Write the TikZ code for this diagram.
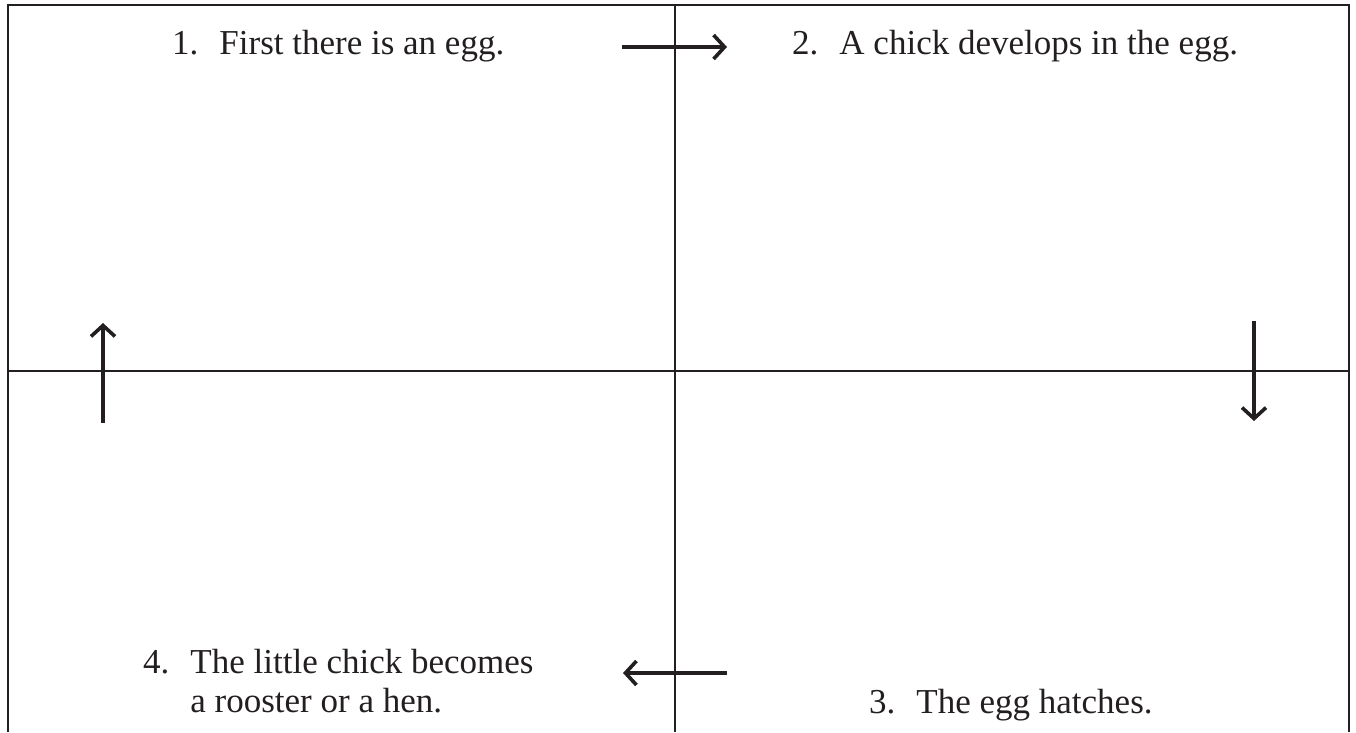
\documentclass[tikz,border=0pt]{standalone}
\usepackage{fontspec}
\setmainfont{Liberation Serif}
\usepackage{tikz}
\usetikzlibrary{arrows.meta}
\definecolor{ink}{RGB}{35,31,32}
\newcommand{\stagefont}{\fontsize{35}{39}\selectfont}
\newcommand{\stageitem}[2]{\begin{tabular}[t]{@{}l@{\hspace{0.6em}}l@{}}#1&#2\end{tabular}}

\begin{document}
\begin{tikzpicture}[x=1pt, y=-1pt,
  frame/.style={draw=ink, line width=2pt},
  flow/.style={draw=ink, line width=3.6pt,
    -{Straight Barb[length=11pt, width=24pt]}},
  stage/.style={anchor=base west, inner sep=0pt, font=\stagefont, text=ink}]
\useasboundingbox (0,0) rectangle (1356,732);
% frame: open at the bottom
\coordinate (tl) at (8,5);
\coordinate (tr) at (1349,5);
\coordinate (bl) at (8,732);
\coordinate (br) at (1349,732);
\coordinate (tm) at (675,5);
\coordinate (bm) at (675,732);
\coordinate (ml) at (8,371);
\coordinate (mr) at (1349,371);
\draw[frame] (bl) -- (tl) -- (tr) -- (br);
\draw[frame] (tm) -- (bm);
\draw[frame] (ml) -- (mr);
% the four stages
\node[stage] (egg) at (172,54) {\stageitem{1.}{First there is an egg.}};
\node[stage] (chick) at (792,54) {\stageitem{2.}{A chick develops in the egg.}};
\node[stage] (hatch) at (869,713) {\stageitem{3.}{The egg hatches.}};
\node[stage] (hen) at (143,673)
  {\stageitem{4.}{The little chick becomes\\&a rooster or a hen.}};
% arrows round the cycle
\coordinate (a1s) at (622,47);
\coordinate (a1e) at (727,47);
\coordinate (a2s) at (1254,321);
\coordinate (a2e) at (1254,421);
\coordinate (a3s) at (727,673);
\coordinate (a3e) at (623,673);
\coordinate (a4s) at (103,423);
\coordinate (a4e) at (103,323);
\draw[flow] (a1s) -- (a1e);
\draw[flow] (a2s) -- (a2e);
\draw[flow] (a3s) -- (a3e);
\draw[flow] (a4s) -- (a4e);
\end{tikzpicture}
\end{document}
